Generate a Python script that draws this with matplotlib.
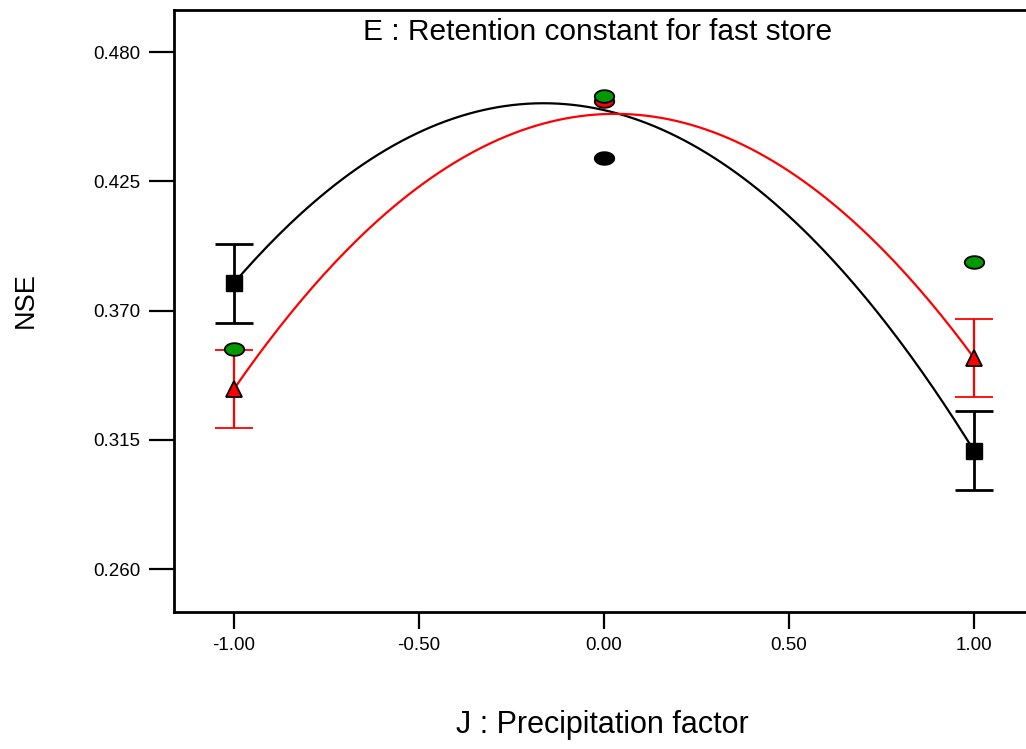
import numpy as np
import matplotlib
matplotlib.use("Agg")
from matplotlib import pyplot as plt
from matplotlib.path import Path

plt.rcParams["font.family"] = ["Liberation Sans", "DejaVu Sans"]

# factor levels (J : Precipitation factor)
levels = [-1.0, 0.0, 1.0]

# black series (low E) : predicted means and half-width of error bars
black_mean = [0.3817, 0.4553, 0.3103]
black_err = [0.0168, 0.0168]
# red series (high E)
red_mean = [0.3366, 0.4536, 0.3498]
red_err = [0.0168, 0.0168]

# design points
green_x = [-1.0, 0.0, 1.0]
green_y = [0.3537, 0.4613, 0.3907]
red_pt_x = [0.0]
red_pt_y = [0.4592]
black_pt_x = [0.0]
black_pt_y = [0.4349]

yticks = [0.260, 0.315, 0.370, 0.425, 0.480]
xticks = [-1.00, -0.50, 0.00, 0.50, 1.00]

# ellipse marker (wider than tall)
t = np.linspace(0, 2 * np.pi, 60)
ellipse = Path(np.column_stack([np.cos(t), 0.65 * np.sin(t)]), closed=True)

fig = plt.figure(figsize=(10.26, 7.49), dpi=100)
W, H = 1026, 749
x0, x1 = 174, 1034
y0, y1 = 10, 612
ax = fig.add_axes([x0 / W, 1 - y1 / H, (x1 - x0) / W, (y1 - y0) / H])

xs = np.linspace(-1, 1, 200)
for mean, col in [(black_mean, "black"), (red_mean, "red")]:
    coef = np.polyfit(levels, mean, 2)
    ax.plot(xs, np.polyval(coef, xs), color=col, lw=1.6, zorder=2)

# design points
ax.plot(green_x, green_y, linestyle="none", marker=ellipse, ms=14,
        mfc="#009900", mec="black", mew=1.3, zorder=5)
ax.plot(red_pt_x, red_pt_y, linestyle="none", marker=ellipse, ms=14,
        mfc="red", mec="black", mew=1.3, zorder=4)
ax.plot(black_pt_x, black_pt_y, linestyle="none", marker=ellipse, ms=14,
        mfc="black", mec="black", mew=1.3, zorder=4)

# end points with error bars
ends = [0, 2]
ax.errorbar([levels[i] for i in ends], [black_mean[i] for i in ends], yerr=black_err,
            fmt="s", color="black", ms=12, mfc="black", mec="black",
            ecolor="black", elinewidth=2, capsize=14, capthick=2, zorder=3)
ax.errorbar([levels[i] for i in ends], [red_mean[i] for i in ends], yerr=red_err,
            fmt="^", color="red", ms=12, mfc="red", mec="black", mew=1.3,
            ecolor="red", elinewidth=1.6, capsize=14, capthick=1.6, zorder=3)

ax.set_xlim(-1.162, 1.162)
ax.set_ylim(0.2417, 0.4979)
ax.set_xticks(xticks)
ax.set_xticklabels(["%.2f" % v for v in xticks])
ax.set_yticks(yticks)
ax.set_yticklabels(["%.3f" % v for v in yticks])

for s in ["left", "bottom", "top"]:
    ax.spines[s].set_linewidth(2)
ax.spines["right"].set_visible(False)
ax.tick_params(axis="y", length=18, width=1.6, pad=6, labelsize=13.5)
ax.tick_params(axis="x", length=12, width=1.6, pad=6, labelsize=13.5)

fig.text(598 / W, 1 - 32 / H, "E : Retention constant for fast store",
         ha="center", va="center", fontsize=21.5)
fig.text(602 / W, 1 - 725 / H, "J : Precipitation factor", ha="center",
         va="center", fontsize=22)
fig.text(26 / W, 1 - 300 / H, "NSE", ha="center", va="center",
         rotation=90, fontsize=19.5)

fig.savefig("out.png", dpi=100)
